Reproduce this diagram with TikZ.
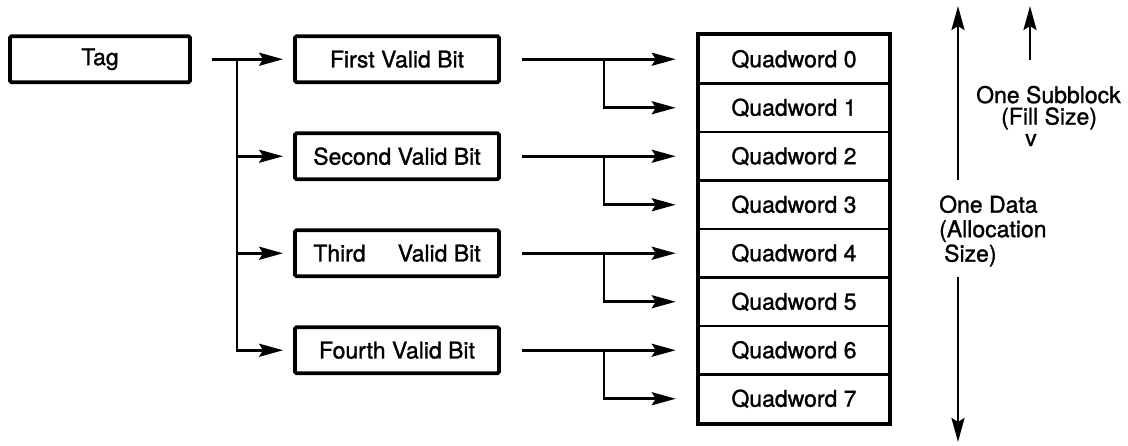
\documentclass[tikz,border=0pt]{standalone}
\usepackage{fontspec}
\setmainfont{TeX Gyre Heros}[FakeBold=1.2]
\usetikzlibrary{arrows.meta}
\begin{document}
\begin{tikzpicture}[x=1pt,y=-1pt,
  font=\fontsize{23}{24.5}\selectfont,
  box/.style={draw, line width=3.8pt, minimum height=46pt, inner sep=0pt, rounded corners=1.5pt},
  qw/.style={draw, line width=2.5pt, minimum width=190pt, minimum height=48.5pt, inner sep=0pt},
  conn/.style={line width=2.8pt, -{Stealth[length=24pt,width=13pt,inset=4pt]}},
  lbl/.style={inner sep=0pt}
]
\useasboundingbox (0,0) rectangle (1128,446);
% tag
\node[box, minimum width=180pt] (tag) at (100,59.25) {Tag};
% quadwords
\foreach \i in {0,...,7}
  \node[qw] (q\i) at (794,{59.25+48.5*\i}) {Quadword \i};
\draw[line width=4pt] (q0.north west) rectangle (q7.south east);
% valid bits
\node[box, minimum width=204pt] (v1) at (397,59.25) {First Valid Bit};
\node[box, minimum width=204pt] (v2) at (397,156.25) {Second Valid Bit};
\node[box, minimum width=204pt] (v3) at (397,253.25) {Third\hspace{32pt}Valid Bit};
\node[box, minimum width=204pt] (v4) at (397,350.25) {Fourth Valid Bit};
% tag connectors
\coordinate (ts) at (212,59.25);
\coordinate (tb) at (237,59.25);
\draw[conn, shorten >=10pt] (ts) -- (v1.west);
\draw[conn, shorten >=10pt] (tb) |- (v4.west);
\draw[conn, shorten >=10pt] (tb |- v2.west) -- (v2.west);
\draw[conn, shorten >=10pt] (tb |- v3.west) -- (v3.west);
% valid bit connectors
\draw[conn, shorten <=21pt, shorten >=22pt] (v1.east) -- (q0.west);
\draw[conn, shorten >=22pt] ([xshift=103pt]v1.east) |- (q1.west);
\draw[conn, shorten <=21pt, shorten >=22pt] (v2.east) -- (q2.west);
\draw[conn, shorten >=22pt] ([xshift=103pt]v2.east) |- (q3.west);
\draw[conn, shorten <=21pt, shorten >=22pt] (v3.east) -- (q4.west);
\draw[conn, shorten >=22pt] ([xshift=103pt]v3.east) |- (q5.west);
\draw[conn, shorten <=21pt, shorten >=22pt] (v4.east) -- (q6.west);
\draw[conn, shorten >=22pt] ([xshift=103pt]v4.east) |- (q7.west);
% one data
\coordinate (dt) at (958,6);
\coordinate (du) at (958,180);
\coordinate (dl) at (958,277);
\coordinate (db) at (958,442);
\draw[conn] (du) -- (dt);
\draw[conn] (dl) -- (db);
\node[lbl, anchor=west, align=left] (dtxt) at (939,231) {One Data\\(Allocation\\\hspace{5pt}Size)};
% one subblock
\coordinate (st) at (1030,6);
\coordinate (su) at (1030,60);
\draw[conn] (su) -- (st);
\node[lbl, anchor=west, align=left, font=\fontsize{23}{21.5}\selectfont] (sb) at (976,116)
  {One Subblock\\\hspace{25pt}(Fill Size)\\\hspace{49pt}v};
\end{tikzpicture}
\end{document}
